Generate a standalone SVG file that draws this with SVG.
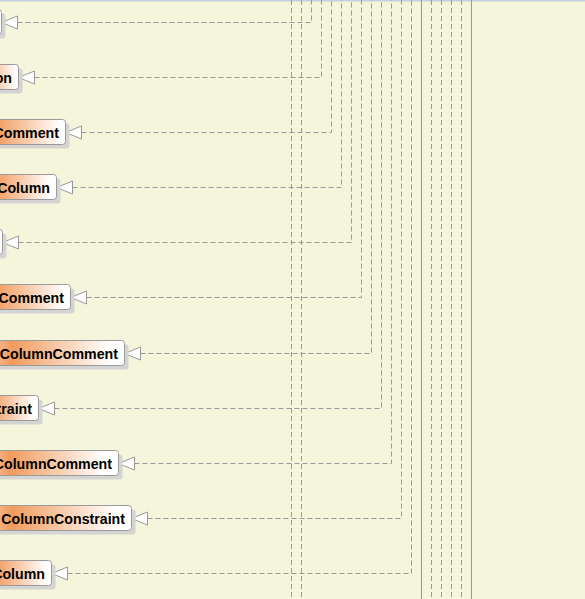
<svg xmlns="http://www.w3.org/2000/svg" width="585" height="599" viewBox="0 0 585 599">
<style>
.sh{fill:#d4d4d2}
.box{stroke:#9a9a9a;stroke-width:1}
.lbl{font-family:"Liberation Sans",Arial,sans-serif;font-weight:bold;font-size:14.2px;fill:#000;text-anchor:end}
.dash{fill:none;stroke:#999999;stroke-width:1;stroke-dasharray:5 3}
.solid{fill:none;stroke:#999999;stroke-width:1}
.arr{fill:#fff;stroke:#999999;stroke-width:1}
</style>
<defs>
<linearGradient id="g" gradientUnits="userSpaceOnUse" x1="0" y1="0" x2="100" y2="0">
<stop offset="0" stop-color="#f5b488"/>
<stop offset="0.12" stop-color="#f19b5d"/>
<stop offset="1" stop-color="#ffffff"/>
</linearGradient>
<linearGradient id="g1" href="#g" x1="-60" x2="0"/>
<linearGradient id="g2" href="#g" x1="-24.9" x2="16"/>
<linearGradient id="g3" href="#g" x1="-13.9" x2="60"/>
<linearGradient id="g4" href="#g" x1="-12.5" x2="50"/>
<linearGradient id="g5" href="#g" x1="-60" x2="0"/>
<linearGradient id="g6" href="#g" x1="-14.4" x2="64"/>
<linearGradient id="g7" href="#g" x1="-1.4" x2="110"/>
<linearGradient id="g8" href="#g" x1="-16" x2="34"/>
<linearGradient id="g9" href="#g" x1="-2.8" x2="104"/>
<linearGradient id="g10" href="#g" x1="-2.2" x2="116"/>
<linearGradient id="g11" href="#g" x1="-12" x2="46"/>
</defs>
<rect x="0" y="0" width="585" height="599" fill="#f5f5dc"/>
<rect x="0" y="0" width="585" height="1.5" fill="#c8d0dc"/>
<g id="connectors">
<path class="dash" d="M291.5 0V599M301.5 0V599"/>
<path class="solid" d="M421.5 0V599M471.5 0V599"/>
<path class="dash" d="M431.5 0V599M441.5 0V599M451.5 0V599M461.5 0V599"/>
<path class="dash" d="M17.5 22.5H311.5V0"/>
<path class="dash" d="M34.5 77.5H321.5V0"/>
<path class="dash" d="M81.5 132.5H331.5V0"/>
<path class="dash" d="M72.5 187.5H341.5V0"/>
<path class="dash" d="M18.5 242.5H351.5V0"/>
<path class="dash" d="M86.5 297.5H361.5V0"/>
<path class="dash" d="M140.5 353.5H371.5V0"/>
<path class="dash" d="M54.5 408.5H381.5V0"/>
<path class="dash" d="M134.5 463.5H391.5V0"/>
<path class="dash" d="M147.5 518.5H401.5V0"/>
<path class="dash" d="M67.5 573.5H411.5V0"/>
<polygon class="arr" points="1.5,22.5 17.5,16 17.5,29"/>
<polygon class="arr" points="18.5,77.5 34.5,71 34.5,84"/>
<polygon class="arr" points="65.5,132.5 81.5,126 81.5,139"/>
<polygon class="arr" points="56.5,187.5 72.5,181 72.5,194"/>
<polygon class="arr" points="2.5,242.5 18.5,236 18.5,249"/>
<polygon class="arr" points="70.5,297.5 86.5,291 86.5,304"/>
<polygon class="arr" points="124.5,353.5 140.5,347 140.5,360"/>
<polygon class="arr" points="38.5,408.5 54.5,402 54.5,415"/>
<polygon class="arr" points="118.5,463.5 134.5,457 134.5,470"/>
<polygon class="arr" points="131.5,518.5 147.5,512 147.5,525"/>
<polygon class="arr" points="51.5,573.5 67.5,567 67.5,580"/>
</g>
<g id="n1"><rect class="sh" x="-134.5" y="13.5" width="140" height="25" rx="3"/><rect class="box" fill="url(#g1)" x="-138.5" y="9.5" width="140" height="25" rx="3"/></g>
<g id="n2"><rect class="sh" x="-117.5" y="68.5" width="140" height="25" rx="3"/><rect class="box" fill="url(#g2)" x="-121.5" y="64.5" width="140" height="25" rx="3"/><text class="lbl" x="12" y="83">on</text></g>
<g id="n3"><rect class="sh" x="-70.5" y="123.5" width="140" height="25" rx="3"/><rect class="box" fill="url(#g3)" x="-74.5" y="119.5" width="140" height="25" rx="3"/><text class="lbl" x="59" y="138">Comment</text></g>
<g id="n4"><rect class="sh" x="-79.5" y="178.5" width="140" height="25" rx="3"/><rect class="box" fill="url(#g4)" x="-83.5" y="174.5" width="140" height="25" rx="3"/><text class="lbl" x="50" y="193">Column</text></g>
<g id="n5"><rect class="sh" x="-133.5" y="233.5" width="140" height="25" rx="3"/><rect class="box" fill="url(#g5)" x="-137.5" y="229.5" width="140" height="25" rx="3"/></g>
<g id="n6"><rect class="sh" x="-65.5" y="288.5" width="140" height="25" rx="3"/><rect class="box" fill="url(#g6)" x="-69.5" y="284.5" width="140" height="25" rx="3"/><text class="lbl" x="64" y="303">Comment</text></g>
<g id="n7"><rect class="sh" x="-11.5" y="344.5" width="140" height="25" rx="3"/><rect class="box" fill="url(#g7)" x="-15.5" y="340.5" width="140" height="25" rx="3"/><text class="lbl" x="118" y="359">ColumnComment</text></g>
<g id="n8"><rect class="sh" x="-97.5" y="399.5" width="140" height="25" rx="3"/><rect class="box" fill="url(#g8)" x="-101.5" y="395.5" width="140" height="25" rx="3"/><text class="lbl" x="32" y="414">traint</text></g>
<g id="n9"><rect class="sh" x="-17.5" y="454.5" width="140" height="25" rx="3"/><rect class="box" fill="url(#g9)" x="-21.5" y="450.5" width="140" height="25" rx="3"/><text class="lbl" x="112" y="469">ColumnComment</text></g>
<g id="n10"><rect class="sh" x="-4.5" y="509.5" width="140" height="25" rx="3"/><rect class="box" fill="url(#g10)" x="-8.5" y="505.5" width="140" height="25" rx="3"/><text class="lbl" x="125" y="524">ColumnConstraint</text></g>
<g id="n11"><rect class="sh" x="-84.5" y="564.5" width="140" height="25" rx="3"/><rect class="box" fill="url(#g11)" x="-88.5" y="560.5" width="140" height="25" rx="3"/><text class="lbl" x="45" y="579">Column</text></g>
</svg>
